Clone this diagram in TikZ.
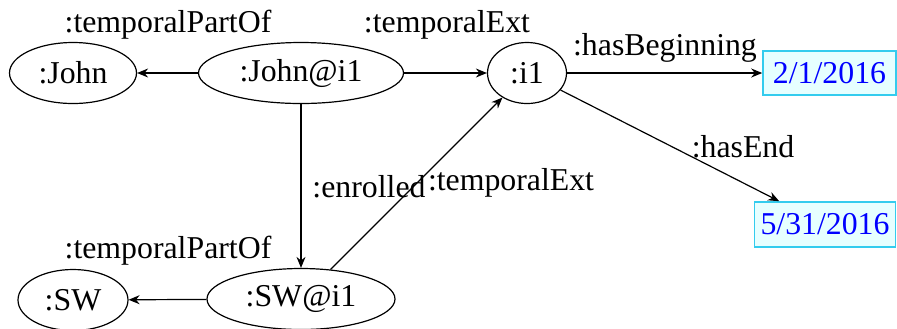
\documentclass[tikz,border=0pt]{standalone}
\usepackage{fontspec}
\setmainfont{Liberation Serif}
\usetikzlibrary{shapes.geometric,arrows.meta}
\definecolor{boxfill}{HTML}{E6FFFF}
\definecolor{boxdraw}{HTML}{33CCEE}
\begin{document}
\begin{tikzpicture}[x=0.5pt,y=-0.5pt,
  every node/.style={font=\fontsize{15.9}{19}\selectfont},
  ent/.style={ellipse,draw,line width=0.6pt,inner sep=0pt,minimum height=30.5pt},
  lit/.style={rectangle,draw=boxdraw,fill=boxfill,line width=0.8pt,text=blue,inner sep=0pt,minimum height=22pt},
  lbl/.style={anchor=base,inner sep=0pt},
  edge/.style={draw,line width=0.6pt,-{Stealth[length=5.5pt,width=4.5pt]}}]
\useasboundingbox (0,0) rectangle (897,328);
\node[ent,minimum width=63.5pt] (john) at (73,73) {:John};
\node[ent,minimum width=102.5pt] (johni1) at (301,73) {:John@i1};
\node[ent,minimum width=39.5pt] (i1) at (527,73) {:i1};
\node[lit,minimum width=66.5pt] (d1) at (829.5,73) {2/1/2016};
\node[lit,minimum width=70.5pt,minimum height=22.5pt] (d2) at (825,224.5) {5/31/2016};
\node[ent,minimum width=55pt] (sw) at (73,300) {:SW};
\node[ent,minimum width=94pt] (swi1) at (301,299) {:SW@i1};
\path[edge] (johni1) -- (john);
\path[edge] (johni1) -- (i1);
\path[edge] (johni1) -- (swi1);
\path[edge] (swi1) -- (i1);
\path[edge] (swi1) -- (sw);
\path[edge] (i1) -- (d1);
\path[edge] (i1) -- (d2);
\node[lbl] (l1) at (168,32) {:temporalPartOf};
\node[lbl] (l2) at (447,32) {:temporalExt};
\node[lbl] (l3) at (665,55) {:hasBeginning};
\node[lbl] (l4) at (743,157) {:hasEnd};
\node[lbl] (l5) at (369,197) {:enrolled};
\node[lbl] (l6) at (511,190) {:temporalExt};
\node[lbl] (l7) at (168,258) {:temporalPartOf};
\end{tikzpicture}
\end{document}
